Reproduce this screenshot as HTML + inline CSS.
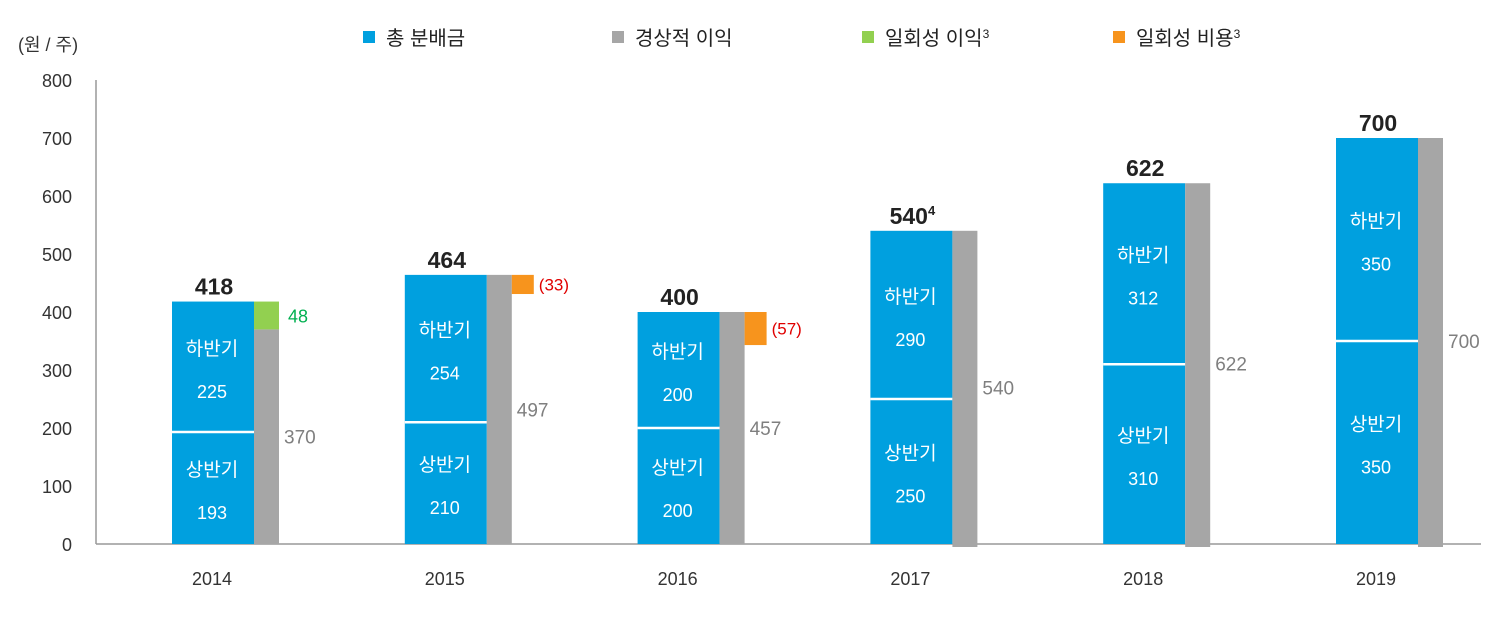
<!DOCTYPE html>
<html><head><meta charset="utf-8"><style>
body{margin:0;background:#fff}
svg text{font-family:"Liberation Sans","Noto Sans CJK KR",sans-serif}
</style></head><body>
<svg width="1509" height="632" xmlns="http://www.w3.org/2000/svg" id="chart">
<g id="legend">
<g><rect x="363" y="31" width="12" height="12" fill="#00a0df"/><text x="386" y="45" font-size="20" fill="#222">총 분배금</text></g>
<g><rect x="612" y="31" width="12" height="12" fill="#a6a6a6"/><text x="635" y="45" font-size="20" fill="#222">경상적 이익</text></g>
<g><rect x="862" y="31" width="12" height="12" fill="#92d050"/><text x="885" y="45" font-size="20" fill="#222">일회성 이익<tspan font-size="12" dy="-7">3</tspan></text></g>
<g><rect x="1113" y="31" width="12" height="12" fill="#f7941d"/><text x="1136" y="45" font-size="20" fill="#222">일회성 비용<tspan font-size="12" dy="-7">3</tspan></text></g>
</g>
<text x="18" y="51" font-size="18" fill="#333">(원 / 주)</text>
<g id="axes"></g>
<g id="marks"></g>
</svg>
<script>
const years=["2014","2015","2016","2017","2018","2019"];
const firstHalf=[193,210,200,250,310,350];
const secondHalf=[225,254,200,290,312,350];
const totals=[418,464,400,540,622,700];
const recurring=[370,497,457,540,622,700];
const oneoffGain=[48,0,0,0,0,0];
const oneoffCost=[0,33,57,0,0,0];
const yTicks=[0,100,200,300,400,500,600,700,800];
const NS="http://www.w3.org/2000/svg";
const y=v=>544-v*0.58;
const x=i=>212+i*232.8;
function mk(tag,attrs,parent,txt){const e=document.createElementNS(NS,tag);for(const k in attrs)e.setAttribute(k,attrs[k]);if(txt!==undefined)e.textContent=txt;parent.appendChild(e);return e;}
const ax=document.getElementById('axes'),mg=document.getElementById('marks');
let l=mk('line',{x1:96,y1:y(800),x2:96,y2:544,stroke:'#999','stroke-width':1.5},ax);


l=mk('line',{x1:96,y1:544,x2:1481,y2:544,stroke:'#999','stroke-width':1.5},ax);


yTicks.forEach(t=>{const e=mk('text',{x:72,y:y(t)+7,'font-size':18,'text-anchor':'end',fill:'#333'},ax,t);

});
years.forEach((yr,i)=>{
const c=x(i);
let e=mk('text',{x:c,y:585,'font-size':18,'text-anchor':'middle',fill:'#333'},ax,yr);


const bx=c-40,bw=82;
e=mk('rect',{x:bx,y:y(totals[i]),width:bw,height:y(0)-y(totals[i]),fill:'#00a0df'},mg);


e=mk('line',{x1:bx,x2:bx+bw,y1:y(firstHalf[i]),y2:y(firstHalf[i]),stroke:'#fff','stroke-width':2.5},mg);


const m1=(y(0)+y(firstHalf[i]))/2,m2=(y(firstHalf[i])+y(totals[i]))/2;
[[m1,'상반기',firstHalf[i]],[m2,'하반기',secondHalf[i]]].forEach(([m,lab,v])=>{
e=mk('text',{x:c,y:m-12,'font-size':19,'text-anchor':'middle',fill:'#fff'},mg,lab);


e=mk('text',{x:c,y:m+31,'font-size':18,'text-anchor':'middle',fill:'#fff'},mg,v);

});
const gx=c+42,gw=25;
const gTop=Math.min(recurring[i],totals[i]);
const gBottom=i>=3?547:y(0);
e=mk('rect',{x:gx,y:y(gTop),width:gw,height:gBottom-y(gTop),fill:'#a6a6a6'},mg);


if(oneoffGain[i]>0){
e=mk('rect',{x:gx,y:y(recurring[i]+oneoffGain[i]),width:gw,height:y(recurring[i])-y(recurring[i]+oneoffGain[i]),fill:'#92d050'},mg);


e=mk('text',{x:gx+34,y:y(recurring[i]+oneoffGain[i]/2)+7,'font-size':18,fill:'#00b050'},mg,oneoffGain[i]);

}
if(oneoffCost[i]>0){
e=mk('rect',{x:gx+gw,y:y(totals[i]),width:22,height:y(totals[i]-oneoffCost[i])-y(totals[i]),fill:'#f7941d'},mg);


e=mk('text',{x:gx+gw+27,y:y(totals[i]-oneoffCost[i]/2)+6,'font-size':17,fill:'#e00000'},mg,'('+oneoffCost[i]+')');

}
e=mk('text',{x:gx+gw+5,y:y(gTop/2)+7,'font-size':19,fill:'#7f7f7f'},mg,recurring[i]);


e=mk('text',{x:c+2,y:y(totals[i])-7,'font-size':23,'font-weight':'bold','text-anchor':'middle',fill:'#222'},mg,totals[i]);


if(yr==='2017'){const s=mk('tspan',{'font-size':13,dy:-9},e,'4');}
});
</script>
</body></html>
